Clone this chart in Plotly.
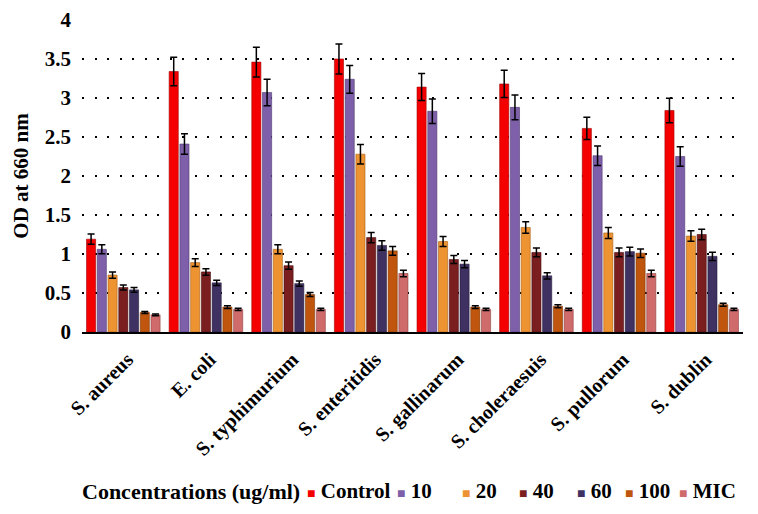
import plotly.graph_objects as go

categories = ["S. aureus", "E. coli", "S. typhimurium", "S. enteritidis",
              "S. gallinarum", "S. choleraesuis", "S. pullorum", "S. dublin"]

control = [1.19, 3.34, 3.46, 3.50, 3.14, 3.18, 2.61, 2.84]
c10 = [1.06, 2.41, 3.07, 3.24, 2.83, 2.88, 2.26, 2.25]
c20 = [0.73, 0.89, 1.06, 2.28, 1.16, 1.34, 1.27, 1.23]
c40 = [0.57, 0.77, 0.85, 1.21, 0.93, 1.02, 1.02, 1.25]
c60 = [0.54, 0.63, 0.62, 1.11, 0.87, 0.72, 1.03, 0.97]
c100 = [0.25, 0.32, 0.48, 1.04, 0.32, 0.33, 1.01, 0.35]
mic = [0.22, 0.29, 0.29, 0.75, 0.29, 0.29, 0.75, 0.29]

series_names = ["Control", "10", "20", "40", "60", "100", "MIC"]
series_values = [control, c10, c20, c40, c60, c100, mic]
series_colors = ["#f50000", "#7e5fa9", "#ee9331", "#7a1e20", "#403163", "#c0560d", "#d06b6b"]
edge_colors = ["#a00000", "#4e3a70", "#a85f15", "#4a0f10", "#241b3a", "#7a3505", "#8f3f3f"]
error_percent = 5.5
y_ticks = [0, 0.5, 1, 1.5, 2, 2.5, 3, 3.5, 4]
legend_title = "Concentrations (ug/ml)"

# layout constants (pixel positions of the legend row, page coordinates)
PLOT_L, PLOT_W, PLOT_B, PLOT_H = 82, 661, 332, 312
legend_title_px = 80
legend_item_px = [305, 395, 460, 517, 575, 623, 677]
legend_y_px = 491

FONT = "Liberation Serif"


def px_x(p):
    return (p - PLOT_L) / PLOT_W


def px_y(p):
    return (PLOT_B - p) / PLOT_H


fig = go.Figure()
for name, vals, col, edge in zip(series_names, series_values, series_colors, edge_colors):
    fig.add_trace(go.Bar(
        x=categories, y=vals, name=name,
        marker=dict(color=col, line=dict(color=edge, width=0.6)),
        error_y=dict(type="percent", value=error_percent, color="black",
                     thickness=1.5, width=3.5),
    ))

fig.add_annotation(
    text=f"<b>{legend_title}</b>", xref="paper", yref="paper",
    x=px_x(legend_title_px), xanchor="left", y=px_y(legend_y_px), yanchor="middle",
    showarrow=False, font=dict(size=22, family=FONT, color="black"),
)
for name, col, xp in zip(series_names, series_colors, legend_item_px):
    fig.add_annotation(
        text=f"<span style='color:{col};font-size:14px'>■</span>&nbsp;<b>{name}</b>",
        xref="paper", yref="paper",
        x=px_x(xp), xanchor="left", y=px_y(legend_y_px), yanchor="middle",
        showarrow=False, font=dict(size=21, family=FONT, color="black"),
    )

fig.update_layout(
    width=750, height=506,
    barmode="group", bargap=0.09, bargroupgap=0.15,
    plot_bgcolor="white", paper_bgcolor="white",
    margin=dict(l=74, r=15, t=12, b=182, autoexpand=False),
    font=dict(family=FONT, color="black"),
    showlegend=False,
)

fig.update_yaxes(
    range=[0, 4], tickvals=y_ticks,
    ticktext=[f"<b>{v:g}</b>" for v in y_ticks],
    tickfont=dict(size=21, family=FONT),
    showgrid=True, gridcolor="black", gridwidth=2, griddash="2px,10.5px",
    zeroline=False, showline=False, ticks="", ticklabelstandoff=10,
    automargin=False,
    title=dict(text="<b>OD at 660 nm</b>", font=dict(size=21, family=FONT), standoff=10),
)
fig.update_xaxes(
    tickangle=-45,
    tickvals=categories,
    ticktext=[f"<b>{c}</b>" for c in categories],
    tickfont=dict(size=20, family=FONT),
    showline=True, linecolor="black", linewidth=2,
    ticks="", showgrid=False, automargin=False,
    ticklabelstandoff=6, ticklabelshift=4,
)

fig.write_html("out.html")
